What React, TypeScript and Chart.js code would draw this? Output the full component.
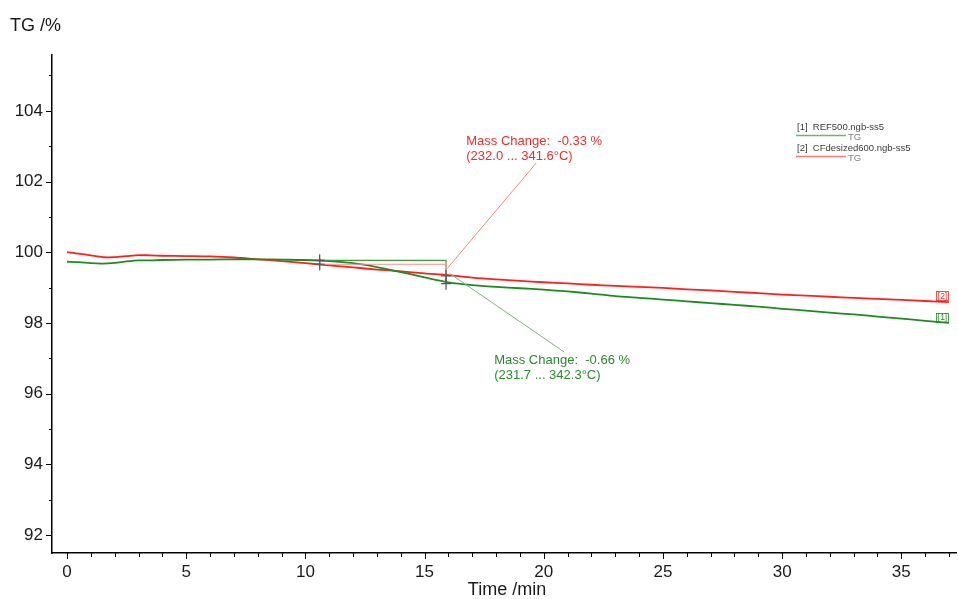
import React, { useEffect, useRef } from 'react';
import { Chart, registerables } from 'chart.js';

Chart.register(...registerables);

// ---- data ----
const timeMin = [0, 0.5, 1, 1.5, 2, 2.5, 3, 3.5, 4, 5, 6, 7, 8, 9, 10, 11, 12, 13, 14, 15, 16, 17, 18, 19, 20, 21, 22, 23, 24, 25, 26, 27, 28, 29, 30, 31, 32, 33, 34, 35, 36, 37];

const tgREF500 = [99.73, 99.72, 99.69, 99.68, 99.70, 99.74, 99.77, 99.77, 99.78, 99.79, 99.79, 99.80, 99.80, 99.79, 99.78, 99.75, 99.69, 99.58, 99.44, 99.29, 99.15, 99.07, 99.02, 98.98, 98.94, 98.89, 98.83, 98.76, 98.71, 98.66, 98.61, 98.56, 98.51, 98.46, 98.40, 98.35, 98.29, 98.24, 98.18, 98.12, 98.06, 98.00];

const tgCFdesized600 = [100.00, 99.96, 99.91, 99.86, 99.86, 99.89, 99.92, 99.91, 99.90, 99.89, 99.88, 99.85, 99.80, 99.75, 99.69, 99.63, 99.57, 99.51, 99.46, 99.40, 99.35, 99.28, 99.23, 99.19, 99.15, 99.12, 99.08, 99.05, 99.02, 98.99, 98.95, 98.92, 98.88, 98.84, 98.80, 98.77, 98.74, 98.71, 98.68, 98.65, 98.62, 98.59];

// mass-change evaluation (step) annotations
const stepTimes = [10.6, 15.9];
const redStep = [99.66, 99.33];
const greenStep = [99.77, 99.11];
const redLabelLines = ['Mass Change:  -0.33 %', '(232.0 ... 341.6°C)'];
const greenLabelLines = ['Mass Change:  -0.66 %', '(231.7 ... 342.3°C)'];
const redLabelAnchor = [16.75, 103.02];
const greenLabelAnchor = [17.92, 96.83];
const redLeader = [[15.95, 99.54], [19.68, 102.52]];
const greenLeader = [[16.05, 99.40], [20.85, 97.18]];

const legendNames = ['[1]  REF500.ngb-ss5', '[2]  CFdesized600.ngb-ss5'];
const legendSub = 'TG';
const endTags = ['[1]', '[2]'];

const xTitle = 'Time /min';
const yTitle = 'TG /%';

const X_MIN = -0.63;
const X_MAX = 37.31;
const Y_MIN = 91.49;
const Y_MAX = 105.58;

const FONT = '"Liberation Sans", Arial, Helvetica, sans-serif';
const RED = '#ff1f1f';
const GREEN = '#1f8a1f';
const RED_TEXT = '#f02b2b';
const GREEN_TEXT = '#2a8a2a';

const overlayPlugin = {
  id: 'tgOverlay',
  afterDraw(chart: any) {
    const { ctx, chartArea, scales } = chart;
    const x = scales.x;
    const y = scales.y;
    const px = (t: number) => x.getPixelForValue(t);
    const py = (v: number) => y.getPixelForValue(v);
    ctx.save();

    // tick marks
    ctx.strokeStyle = '#000';
    ctx.lineWidth = 1;
    for (let t = 0; t <= Math.floor(X_MAX); t++) {
      const xx = Math.round(px(t)) + 0.5;
      const len = t % 5 === 0 ? 6 : 4;
      ctx.beginPath();
      ctx.moveTo(xx, chartArea.bottom);
      ctx.lineTo(xx, chartArea.bottom + len);
      ctx.stroke();
    }
    for (let v = Math.ceil(Y_MIN); v <= Math.floor(Y_MAX); v++) {
      const yy = Math.round(py(v)) + 0.5;
      const len = v % 2 === 0 ? 6 : 3;
      ctx.beginPath();
      ctx.moveTo(chartArea.left - len, yy);
      ctx.lineTo(chartArea.left, yy);
      ctx.stroke();
    }

    // axis titles
    ctx.fillStyle = '#1a1a1a';
    ctx.font = `18px ${FONT}`;
    ctx.textBaseline = 'alphabetic';
    ctx.textAlign = 'left';
    ctx.fillText(yTitle, 10, 31);
    ctx.textAlign = 'center';
    ctx.fillText(xTitle, 507, 595);

    // step brackets
    const drawStep = (vals: number[], color: string) => {
      ctx.strokeStyle = color;
      ctx.lineWidth = 1.2;
      ctx.beginPath();
      ctx.moveTo(px(stepTimes[0]), py(vals[0]));
      ctx.lineTo(px(stepTimes[1]), py(vals[0]));
      ctx.lineTo(px(stepTimes[1]), py(vals[1]));
      ctx.stroke();
    };
    drawStep(greenStep, '#3c9c3c');
    drawStep(redStep, '#ff8c8c');

    // leader lines
    const drawLeader = (pts: number[][], color: string) => {
      ctx.strokeStyle = color;
      ctx.lineWidth = 1;
      ctx.beginPath();
      ctx.moveTo(px(pts[0][0]), py(pts[0][1]));
      ctx.lineTo(px(pts[1][0]), py(pts[1][1]));
      ctx.stroke();
    };
    drawLeader(redLeader, '#ff8080');
    drawLeader(greenLeader, '#7fb07f');

    // crosses
    ctx.strokeStyle = '#555';
    ctx.lineWidth = 1.2;
    const cross = (t: number, v: number) => {
      const cx = px(t), cy = py(v);
      ctx.beginPath();
      ctx.moveTo(cx - 5, cy);
      ctx.lineTo(cx + 5, cy);
      ctx.moveTo(cx, cy - 6);
      ctx.lineTo(cx, cy + 6);
      ctx.stroke();
    };
    for (let i = 0; i < stepTimes.length; i++) {
      cross(stepTimes[i], redStep[i]);
      cross(stepTimes[i], greenStep[i]);
    }

    // mass change labels
    ctx.font = `13px ${FONT}`;
    ctx.textAlign = 'left';
    ctx.fillStyle = RED_TEXT;
    redLabelLines.forEach((s, i) => ctx.fillText(s, px(redLabelAnchor[0]), py(redLabelAnchor[1]) + i * 14.5));
    ctx.fillStyle = GREEN_TEXT;
    greenLabelLines.forEach((s, i) => ctx.fillText(s, px(greenLabelAnchor[0]), py(greenLabelAnchor[1]) + i * 14.5));

    // legend (top right)
    const legendLineColors = ['#6cb86c', '#ff7a7a'];
    const baseY = [130, 151];
    ctx.font = `9.5px ${FONT}`;
    for (let i = 0; i < 2; i++) {
      ctx.fillStyle = '#3a3a3a';
      ctx.fillText(legendNames[i], 797, baseY[i]);
      ctx.strokeStyle = legendLineColors[i];
      ctx.lineWidth = 1.5;
      ctx.beginPath();
      ctx.moveTo(796, baseY[i] + 5.5);
      ctx.lineTo(846, baseY[i] + 5.5);
      ctx.stroke();
      ctx.fillStyle = '#808080';
      ctx.fillText(legendSub, 848, baseY[i] + 9.5);
    }

    // end tags
    const series = [tgREF500, tgCFdesized600];
    const tagColors = [GREEN, RED];
    ctx.font = `8.5px ${FONT}`;
    ctx.textAlign = 'center';
    ctx.textBaseline = 'middle';
    for (let i = 0; i < 2; i++) {
      const last = series[i].length - 1;
      const ex = px(timeMin[last]);
      const ey = py(series[i][last]) - (i === 1 ? 1 : 0);
      ctx.strokeStyle = tagColors[i];
      ctx.lineWidth = 0.8;
      ctx.strokeRect(ex - 12.5, ey - 9.5, 12, 9);
      ctx.fillStyle = tagColors[i];
      ctx.fillText(endTags[i], ex - 6.5, ey - 4.8);
    }

    ctx.restore();
  },
};

export default function App() {
  const ref = useRef<HTMLCanvasElement>(null);
  useEffect(() => {
    document.body.style.margin = '0';
    const toPts = (vals: number[]) => timeMin.map((t, i) => ({ x: t, y: vals[i] }));
    const chart = new Chart(ref.current as HTMLCanvasElement, {
      type: 'line',
      data: {
        datasets: [
          { label: 'REF500.ngb-ss5 TG', data: toPts(tgREF500), borderColor: GREEN, borderWidth: 1.8, pointRadius: 0, tension: 0.25, fill: false },
          { label: 'CFdesized600.ngb-ss5 TG', data: toPts(tgCFdesized600), borderColor: RED, borderWidth: 1.8, pointRadius: 0, tension: 0.25, fill: false },
        ],
      },
      options: {
        animation: false,
        responsive: false,
        maintainAspectRatio: false,
        layout: { padding: { top: 55, left: 0, right: 0, bottom: 0 } },
        plugins: { legend: { display: false }, tooltip: { enabled: false }, title: { display: false } },
        scales: {
          x: {
            type: 'linear',
            min: X_MIN,
            max: X_MAX,
            grid: { display: false, drawTicks: false },
            border: { display: true, color: '#000', width: 1.5 },
            ticks: {
              stepSize: 1,
              includeBounds: false,
              autoSkip: false,
              maxRotation: 0,
              padding: 9,
              color: '#1a1a1a',
              font: { family: FONT, size: 17 },
              callback: (v: any) => (Number(v) % 5 === 0 ? String(v) : ''),
            },
            afterFit: (s: any) => { s.height = 46; },
          },
          y: {
            type: 'linear',
            min: Y_MIN,
            max: Y_MAX,
            grid: { display: false, drawTicks: false },
            border: { display: true, color: '#000', width: 1.5 },
            ticks: {
              stepSize: 1,
              includeBounds: false,
              autoSkip: false,
              padding: 9,
              color: '#1a1a1a',
              font: { family: FONT, size: 17 },
              callback: (v: any) => (Number(v) % 2 === 0 ? String(v) : ''),
            },
            afterFit: (s: any) => { s.width = 52; },
          },
        },
      } as any,
      plugins: [overlayPlugin],
    });
    return () => chart.destroy();
  }, []);
  return (
    <div style={{ width: 958, height: 599 }}>
      <canvas ref={ref} width={958} height={599} />
    </div>
  );
}
